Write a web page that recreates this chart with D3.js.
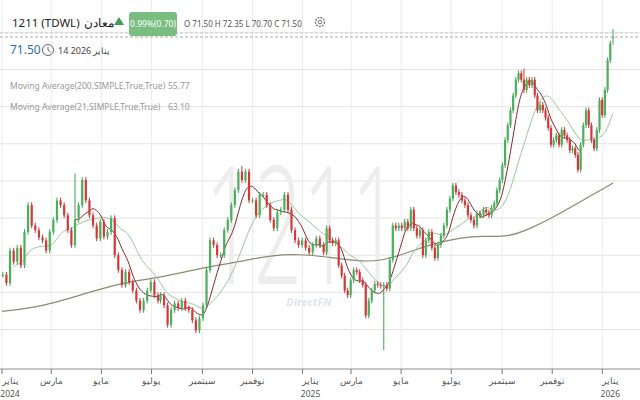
<!DOCTYPE html>
<html><head><meta charset="utf-8">
<script src="https://cdn.jsdelivr.net/npm/d3@7"></script>
<style>body{margin:0;background:#fff;}svg{display:block;font-family:"Noto Sans",sans-serif;}</style>
</head><body><svg id="c" width="640" height="400"></svg>
<script>
// closes in four consecutive date segments
const segDates = [["2024-01-02","2024-07-09"],["2024-07-12","2025-01-22"],["2025-01-23","2025-08-05"],["2025-08-06","2026-01-14"]];
const seg1 = [45.9,45.0,48.5,47.3,48.8,46.9,50.5,53.4,51.2,50.7,49.9,49.6,48.5,50.5,51.8,53.9,53.4,52.3,50.7,49.1,51.8,53.4,56.1,53.9,52.3,51.2,49.8,51.6,50.0,50.5,52.0,48.0,46.4,44.8,46.2,45.1,44.2,43.1,42.1,43.1,44.2,45.1,43.7,43.1];
const seg2 = [43.7,42.6,40.5,42.1,42.8,42.3,43.1,42.3,42.1,41.0,39.9,41.2,42.6,46.4,49.6,49.1,48.0,48.0,50.7,51.8,53.4,55.0,57.0,56.1,57.0,53.9,53.9,52.3,54.5,54.5,53.4,51.8,50.9,52.6,52.9,54.5,52.9,50.7,49.6,49.1,49.6,48.8,48.3,49.1,49.8,49.1];
const seg3 = [49.1,48.3,50.9,49.6,49.3,49.6,46.9,45.8,44.2,43.7,45.3,46.4,46.2,45.3,44.8,41.5,43.1,44.2,44.9,44.8,44.7,44.8,44.4,47.5,51.2,50.9,51.2,50.9,51.6,50.9,52.9,50.9,50.1,50.7,48.0,49.6,50.5,48.8,47.7,49.1,50.1,51.2,52.9,54.1,55.5,54.8,54.5,53.9,53.4,52.3,51.8,51.2,52.5,52.3];
const seg4 = [52.3,52.9,52.6,52.3,53.1,53.6,55.0,56.1,57.7,60.4,62.0,63.6,65.2,66.9,67.6,66.9,65.8,66.9,66.3,66.9,65.2,63.6,64.2,63.6,62.8,61.7,59.9,60.4,60.9,59.9,61.5,60.9,60.4,59.3,59.5,58.8,57.2,59.9,62.0,63.6,62.0,60.4,59.5,61.5,64.7,63.1,65.8,69.0,70.8,71.5];
// notable wick extremes: [date, high, low]
const wicks = [["2024-03-30",56.8,null],["2024-10-20",57.6,null],["2025-04-10",null,37.8],["2025-09-28",68.1,null],["2026-01-14",72.35,70.7]];
const ma200Dates = ["2024-01-01","2024-02-16","2024-04-05","2024-05-24","2024-07-12","2024-08-30","2024-10-17","2024-11-23","2024-12-30","2025-01-23","2025-03-13","2025-04-06","2025-05-01","2025-06-06","2025-07-13","2025-08-06","2025-09-08","2025-10-06","2025-10-31","2025-11-24","2025-12-18","2026-01-14"];
const ma200Vals = [41.96,42.4,43.7,45.0,45.6,46.6,47.3,48.0,48.1,47.9,47.3,47.4,48.0,49.2,49.9,50.1,49.9,50.9,52.0,53.2,54.4,55.77];
const tickDates = ["2024-01-01","2024-03-01","2024-05-01","2024-07-01","2024-09-01","2024-11-01","2025-01-01","2025-03-01","2025-05-01","2025-07-01","2025-09-01","2025-11-01","2026-01-01"];
const monthNames = ["يناير","مارس","مايو","يوليو","سبتمبر","نوفمبر"];
const priceGrid = [72,68,64,60,56,52,48,44,40];

const svg = d3.select("#c");
const parse = d3.timeParse("%Y-%m-%d");
const segs = [seg1,seg2,seg3,seg4];
const closes = [], dates = [];
segs.forEach((s,k)=>{const a=parse(segDates[k][0]), b=parse(segDates[k][1]);
  s.forEach((c,i)=>{closes.push(c); dates.push(new Date(+a+(b-a)*i/(s.length-1)));});});
const N = closes.length;
const x = d3.scaleTime().domain([parse("2024-01-01"), parse("2026-01-14")]).range([2,613]);
const y = d3.scaleLinear().domain([40,71.5]).range([329.5,37]);

const g = svg.append("g");
g.selectAll(".hg").data(priceGrid).join("line").attr("x1",0).attr("x2",640)
 .attr("y1",d=>y(d)).attr("y2",d=>y(d)).attr("stroke","#e3e3e3");
g.selectAll(".vg").data(tickDates).join("line").attr("y1",0).attr("y2",369)
 .attr("x1",d=>x(parse(d))).attr("x2",d=>x(parse(d))).attr("stroke","#ececec");

svg.append("text").attr("x",205).attr("y",284).attr("font-size",165).attr("font-weight",300)
 .attr("textLength",195).attr("lengthAdjust","spacingAndGlyphs")
 .attr("fill","#ededed").attr("font-family","Open Sans").text("1211");
svg.append("text").attr("x",309).attr("y",306).attr("text-anchor","middle").attr("font-size",11)
 .attr("font-style","italic").attr("font-weight","bold").attr("fill","#e2e5ee").text("DirectFN");

const ax = svg.append("g").attr("transform","translate(0,369)");
ax.append("line").attr("x1",0).attr("x2",640).attr("stroke","#b5b5b5").attr("stroke-width",1.5);
ax.selectAll(".tk").data(tickDates).join("line").attr("x1",d=>x(parse(d))).attr("x2",d=>x(parse(d)))
 .attr("y1",0).attr("y2",5).attr("stroke","#777");
ax.selectAll(".tl").data(tickDates).join("text").attr("x",d=>x(parse(d))+(d.endsWith("01-01")?8:0))
 .attr("y",15).attr("text-anchor","middle").attr("font-size",8.5).attr("fill","#555")
 .text(d=>monthNames[(+d.slice(5,7)-1)/2]);
ax.selectAll(".ty").data(tickDates.filter(d=>d.endsWith("01-01"))).join("text").attr("x",d=>x(parse(d))+8)
 .attr("y",28).attr("text-anchor","middle").attr("font-size",8.5).attr("fill","#555").text(d=>d.slice(0,4));

svg.append("path").datum(ma200Vals).attr("fill","none").attr("stroke","#8b8b70").attr("stroke-width",1.2)
 .attr("d",d3.line().x((d,i)=>x(parse(ma200Dates[i]))).y(d=>y(d)).curve(d3.curveBasis));
function ma(w){return closes.map((c,i)=>d3.mean(closes.slice(Math.max(0,i-w+1),i+1)));}
const maG = ma(15), maB = ma(6);
svg.append("path").datum(maG.slice(3)).attr("fill","none").attr("stroke","#9cc79a").attr("stroke-width",1)
 .attr("d",d3.line().x((d,i)=>x(dates[i+3])).y(d=>y(d)).curve(d3.curveBasis));
svg.append("path").datum(maB.slice(20,N-12)).attr("fill","none").attr("stroke","#7b2d2d").attr("stroke-width",1)
 .attr("d",d3.line().x((d,i)=>x(dates[i+20])).y(d=>y(d)).curve(d3.curveBasis));

const candles = closes.map((c,i)=>{
  const o = i===N-1 ? 71.5 : (i>0?closes[i-1]:c);
  let h=Math.max(o,c)+0.3, l=Math.min(o,c)-0.3;
  wicks.forEach(w=>{ if(Math.abs(parse(w[0])-dates[i])<2.5*864e5){ if(w[1]!=null)h=w[1]; if(w[2]!=null)l=w[2]; }});
  return {d:dates[i],o,c,h,l};
});
const cg = svg.append("g");
cg.selectAll("line").data(candles).join("line").attr("x1",d=>x(d.d)).attr("x2",d=>x(d.d))
 .attr("y1",d=>y(d.h)).attr("y2",d=>y(d.l)).attr("stroke",d=>d.c>=d.o?"#3f9f52":"#cc3434");
cg.selectAll("rect").data(candles).join("rect").attr("x",d=>x(d.d)-1.1).attr("width",2.2)
 .attr("y",d=>y(Math.max(d.o,d.c))).attr("height",d=>Math.max(1,Math.abs(y(d.o)-y(d.c))))
 .attr("fill",d=>d.c>=d.o?"#4caf5e":"#d23a3a");

svg.append("line").attr("x1",0).attr("x2",640).attr("y1",y(71.5)).attr("y2",y(71.5))
 .attr("stroke","#aaa").attr("stroke-dasharray","3,2");
svg.append("line").attr("x1",0).attr("x2",640).attr("y1",33).attr("y2",33)
 .attr("stroke","#ccc").attr("stroke-dasharray","3,2");
const hd = svg.append("g");
hd.append("text").attr("x",12).attr("y",27).attr("font-size",11.5).attr("fill","#222").text("1211 (TDWL)");
hd.append("text").attr("x",84).attr("y",27).attr("font-size",11.5).attr("fill","#222").text("معادن");
hd.append("path").attr("d","M114,25 L119,17 L124,25 Z").attr("fill","#3f9f52");
hd.append("rect").attr("x",129).attr("y",12).attr("width",48).attr("height",24).attr("rx",3).attr("fill","#79bd80");
hd.append("text").attr("x",153).attr("y",27).attr("text-anchor","middle").attr("font-size",8.5).attr("fill","#fff").text("0.99%(0.70)");
hd.append("text").attr("x",184).attr("y",27).attr("font-size",8).attr("fill","#555")
 .text("O 71.50  H 72.35  L 70.70  C 71.50");
hd.append("circle").attr("cx",320).attr("cy",22).attr("r",4.5).attr("fill","none").attr("stroke","#777").attr("stroke-width",1.3).attr("stroke-dasharray","2,1");
hd.append("circle").attr("cx",320).attr("cy",22).attr("r",1.8).attr("fill","none").attr("stroke","#777");
hd.append("text").attr("x",10).attr("y",54).attr("font-size",12).attr("fill","#2a6fa8").text("71.50");
hd.append("circle").attr("cx",48).attr("cy",50).attr("r",5.5).attr("fill","none").attr("stroke","#666");
hd.append("path").attr("d","M48,46.5 L48,50 L50.5,52").attr("fill","none").attr("stroke","#666");
hd.append("text").attr("x",58).attr("y",54).attr("font-size",9).attr("fill","#444").text("14 2026");
hd.append("text").attr("x",93).attr("y",54).attr("font-size",9).attr("fill","#444").text("يناير");
hd.append("text").attr("x",10).attr("y",89).attr("font-size",8.5).attr("fill","#999").text("Moving Average(200,SIMPLE,True,True)");
hd.append("text").attr("x",168).attr("y",89).attr("font-size",8.5).attr("fill","#999").text("55.77");
hd.append("text").attr("x",10).attr("y",110).attr("font-size",8.5).attr("fill","#999").text("Moving Average(21,SIMPLE,True,True)");
hd.append("text").attr("x",168).attr("y",110).attr("font-size",8.5).attr("fill","#999").text("63.10");
</script></body></html>
